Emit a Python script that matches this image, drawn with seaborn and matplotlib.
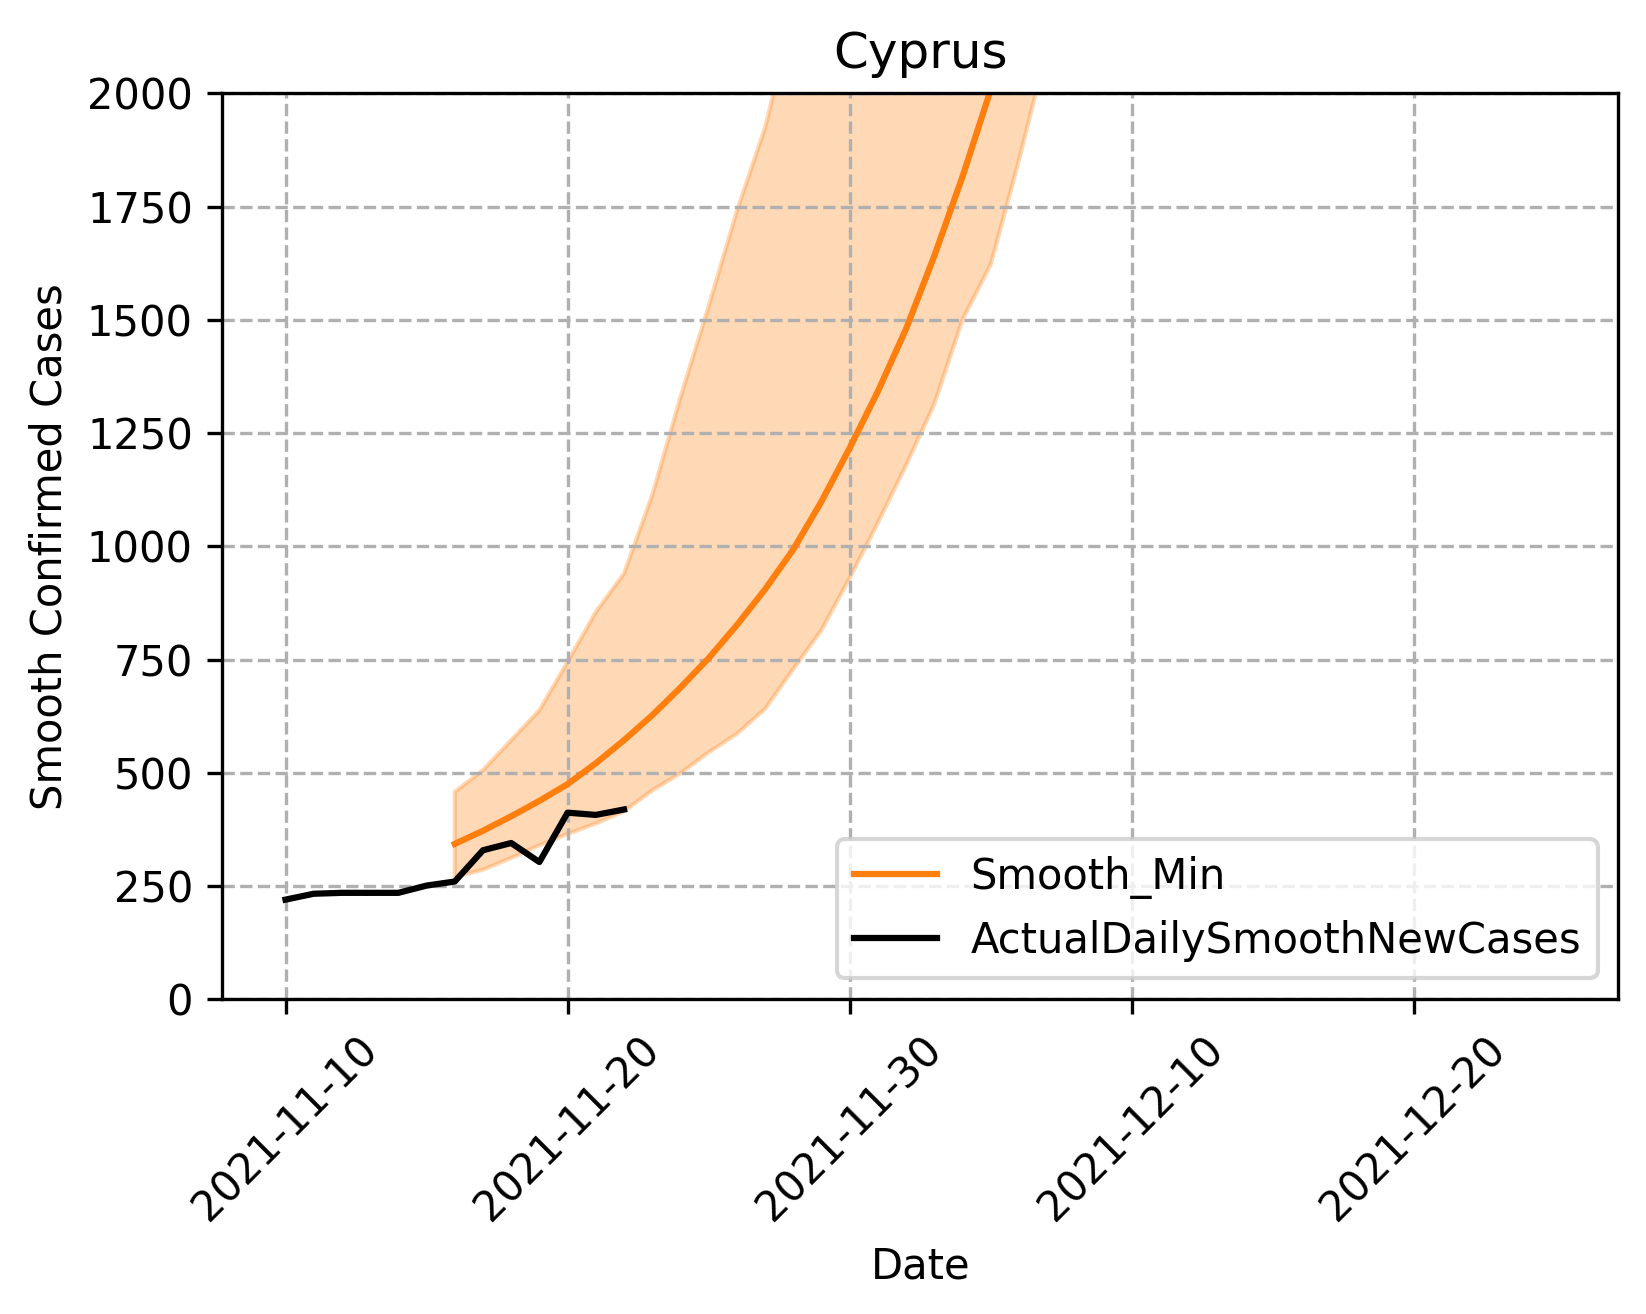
import pandas as pd
import numpy as np
import matplotlib
matplotlib.use("Agg")
import matplotlib.pyplot as plt
import matplotlib.dates as mdates
import seaborn as sns

# actual smoothed daily new cases, 2021-11-10 .. 2021-11-22
ACTUAL_START = "2021-11-10"
actual_vals = [220, 233, 235, 235, 235, 251, 260, 329, 345, 303, 412, 407, 419]

# forecast (Smooth_Min) with band, 2021-11-16 .. 2021-12-07
FC_START = "2021-11-16"
fc_mid = [343, 372, 404, 438, 475, 521, 572, 627, 688, 753, 826, 905,
          993, 1099, 1217, 1342, 1480, 1641, 1816, 2008, 2220, 2450]
fc_low = [270, 286, 312, 340, 365, 388, 415, 461, 499, 545, 586, 641,
          729, 815, 930, 1052, 1179, 1314, 1500, 1622, 1852, 2100]
fc_high = [458, 506, 572, 638, 745, 855, 940, 1113, 1329, 1530, 1740, 1924,
           2180, 2450, 2750, 3050, 3400, 3750, 4150, 4550, 5000, 5500]

X_TICKS = ["2021-11-10", "2021-11-20", "2021-11-30", "2021-12-10", "2021-12-20"]
Y_TICKS = [0, 250, 500, 750, 1000, 1250, 1500, 1750, 2000]
DATA_END = "2021-12-25"

actual = pd.DataFrame({
    "Date": pd.date_range(ACTUAL_START, periods=len(actual_vals), freq="D"),
    "ActualDailySmoothNewCases": actual_vals,
})
fc = pd.DataFrame({
    "Date": pd.date_range(FC_START, periods=len(fc_mid), freq="D"),
    "Smooth_Min": fc_mid,
    "low": fc_low,
    "high": fc_high,
})

plt.rcParams.update({
    "font.family": "DejaVu Sans",
    "font.size": 10,
})

fig, ax = plt.subplots(figsize=(1646 / 300, 1314 / 300), dpi=300)
fig.subplots_adjust(left=0.1349, right=0.9832, top=0.929, bottom=0.2395)

ax.fill_between(fc["Date"], fc["low"], fc["high"], color="C1", alpha=0.3)
sns.lineplot(data=fc, x="Date", y="Smooth_Min", color="C1", label="Smooth_Min", ax=ax)
sns.lineplot(data=actual, x="Date", y="ActualDailySmoothNewCases", color="black",
             label="ActualDailySmoothNewCases", ax=ax)

start = pd.Timestamp(ACTUAL_START)
end = pd.Timestamp(DATA_END)
pad = (end - start) * 0.05
ax.set_xlim(start - pad, end + pad)
ax.set_ylim(0, 2000)
ax.set_yticks(Y_TICKS)
ax.set_xticks(pd.to_datetime(X_TICKS))
ax.xaxis.set_major_formatter(mdates.DateFormatter("%Y-%m-%d"))
plt.setp(ax.get_xticklabels(), rotation=45)

ax.grid(True, linestyle="--")
ax.set_title("Cyprus")
ax.set_xlabel("Date")
ax.set_ylabel("Smooth Confirmed Cases")
ax.legend(loc="lower right")

fig.savefig("out.png", dpi=300)
